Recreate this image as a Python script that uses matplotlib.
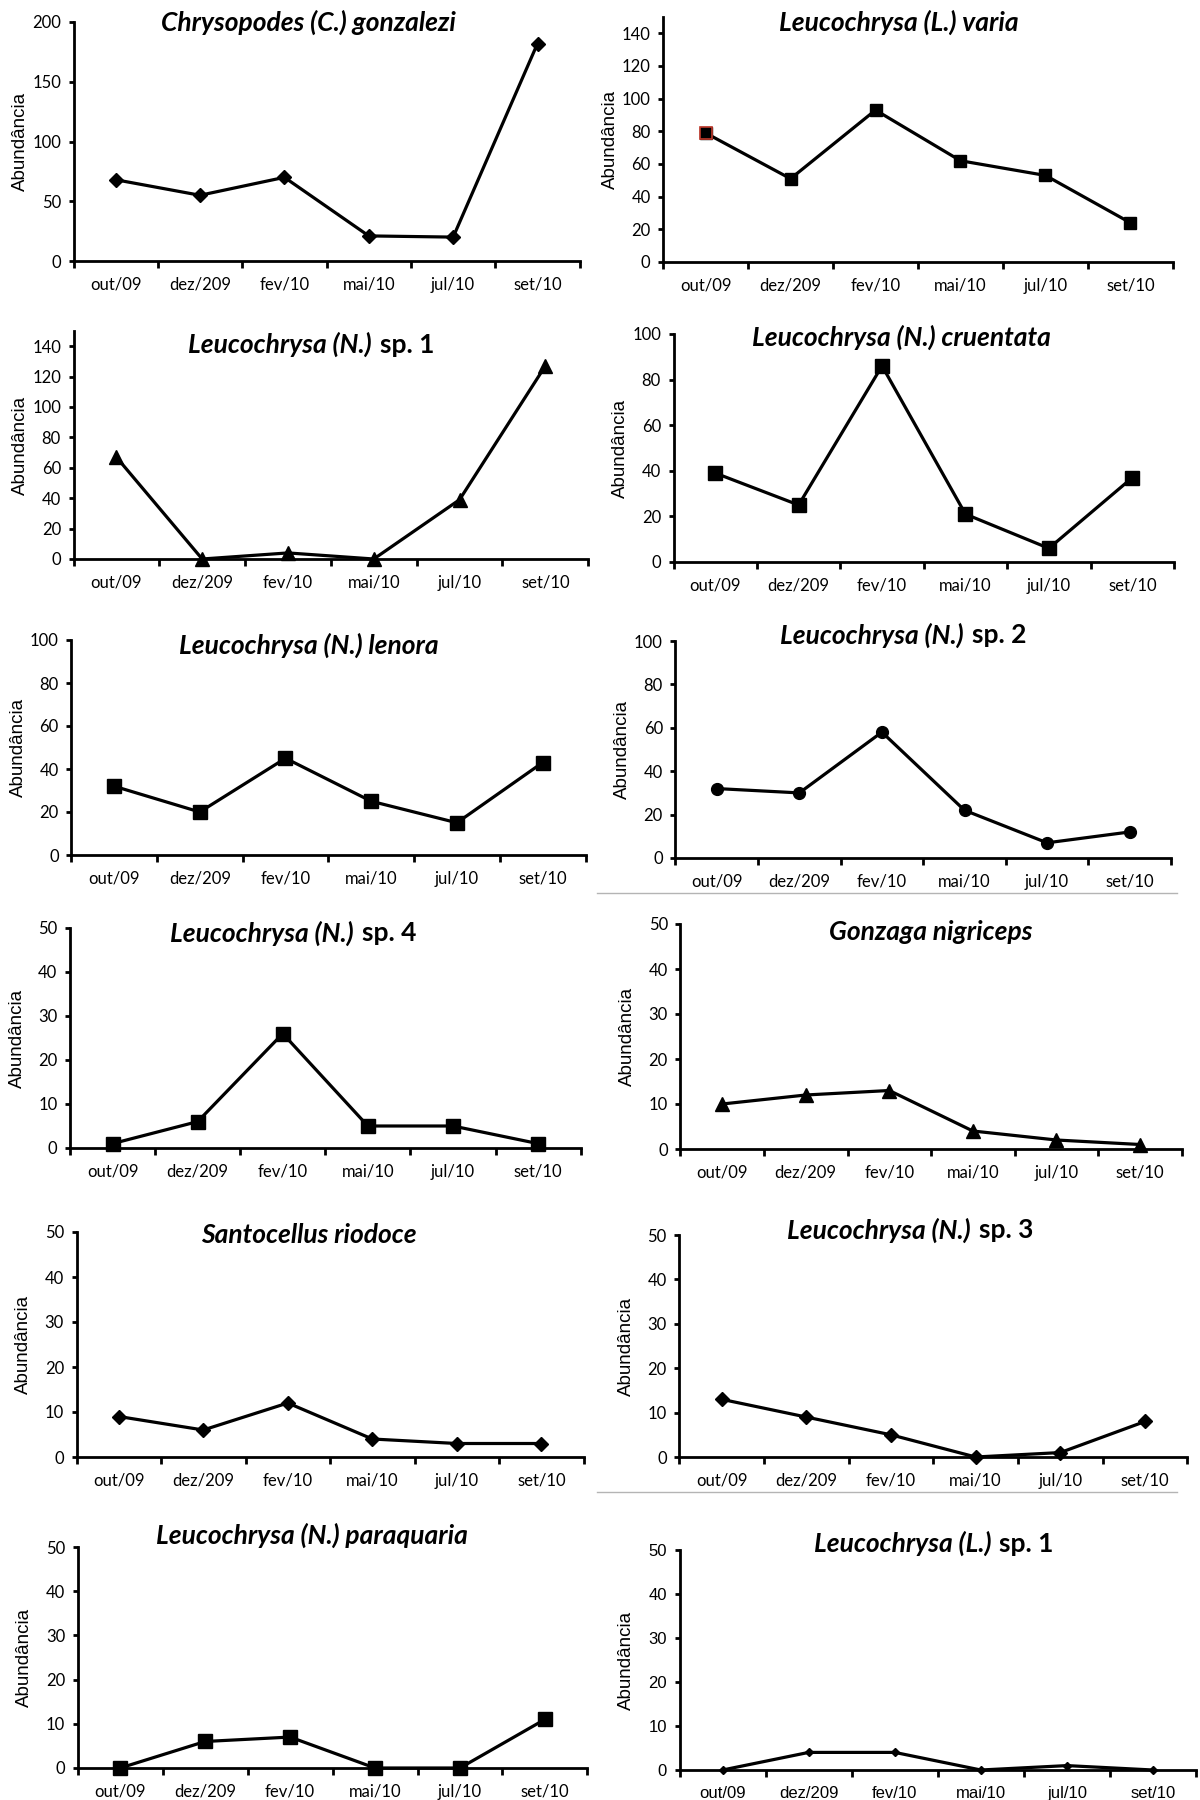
import matplotlib
matplotlib.use("Agg")
import matplotlib.pyplot as plt
from matplotlib.lines import Line2D
from matplotlib.offsetbox import TextArea, HPacker, AnnotationBbox

plt.rcParams["font.family"] = ["Lato", "DejaVu Sans"]

meses = ["out/09", "dez/209", "fev/10", "mai/10", "jul/10", "set/10"]

gonzalezi = [68, 55, 70, 21, 20, 182]
varia = [79, 51, 93, 62, 53, 24]
n_sp1 = [67, 0, 4, 0, 39, 127]
cruentata = [39, 25, 86, 21, 6, 37]
lenora = [32, 20, 45, 25, 15, 43]
n_sp2 = [32, 30, 58, 22, 7, 12]
n_sp4 = [1, 6, 26, 5, 5, 1]
nigriceps = [10, 12, 13, 4, 2, 1]
riodoce = [9, 6, 12, 4, 3, 3]
n_sp3 = [13, 9, 5, 0, 1, 8]
paraquaria = [0, 6, 7, 0, 0, 11]
l_sp1 = [0, 4, 4, 0, 1, 0]

# panel: (italic part, upright part, values, marker, ms, ylim, ystep,
#         pixel box x0, x1, ytop, ybottom, title x, title y, arial ticks)
paineis = [
    ("Chrysopodes (C.) gonzalezi", "", gonzalezi, "D", 7, 200, 50, 73.5, 579.7, 22, 261, 0.465, 1.0, False),
    ("Leucochrysa (L.) varia", "", varia, "s", 9, 150, 20, 663.1, 1172.9, 17, 262, 0.462, 0.98, False),
    ("Leucochrysa (N.)", "sp. 1", n_sp1, "^", 9.5, 150, 20, 73.5, 588.2, 331, 559, 0.462, 0.94, False),
    ("Leucochrysa (N.) cruentata", "", cruentata, "s", 9.5, 100, 20, 673.5, 1174.0, 334, 562, 0.456, 0.987, False),
    ("Leucochrysa (N.) lenora", "", lenora, "s", 9.5, 100, 20, 71.2, 585.5, 640, 855, 0.462, 0.977, False),
    ("Leucochrysa (N.)", "sp. 2", n_sp2, "o", 8.5, 100, 20, 675.4, 1171.0, 641, 858, 0.459, 1.028, False),
    ("Leucochrysa (N.)", "sp. 4", n_sp4, "s", 9.5, 50, 10, 70.0, 580.6, 928, 1148, 0.438, 0.977, False),
    ("Gonzaga nigriceps", "", nigriceps, "^", 9.5, 50, 10, 680.4, 1181.7, 924, 1149, 0.50, 0.964, False),
    ("Santocellus riodoce", "", riodoce, "D", 7, 50, 10, 76.5, 583.6, 1232, 1457, 0.458, 0.987, False),
    ("Leucochrysa (N.)", "sp. 3", n_sp3, "D", 7, 50, 10, 679.2, 1187.4, 1235, 1457, 0.454, 1.023, False),
    ("Leucochrysa (N.) paraquaria", "", paraquaria, "s", 9.5, 50, 10, 77.7, 587.4, 1547, 1768, 0.459, 1.054, False),
    ("Leucochrysa (L.)", "sp. 1", l_sp1, "D", 4, 50, 10, 679.6, 1196.0, 1550, 1770, 0.492, 1.03, True),
]

W, H = 1200, 1800
fig = plt.figure(figsize=(W / 100, H / 100), dpi=100)

xc = [i + 0.5 for i in range(len(meses))]

for (ital, reto, vals, mk, ms, ytop, ystep, x0, x1, yt, yb, tx, ty, arial) in paineis:
    ax = fig.add_axes([x0 / W, 1 - yb / H, (x1 - x0) / W, (yb - yt) / H])
    ax.plot(xc, vals, color="black", lw=2.3, marker=mk, ms=ms,
            mfc="black", mec="black", clip_on=False, zorder=3)
    if vals is varia:
        ax.plot(xc[:1], vals[:1], ls="none", marker=mk, ms=ms,
                mfc="black", mec="#c0392b", mew=1.2, clip_on=False, zorder=4)

    ax.set_xlim(0, len(meses))
    ax.set_ylim(0, ytop)
    ax.set_yticks(range(0, ytop + 1, ystep) if ytop % ystep == 0
                  else range(0, ytop, ystep))
    ax.set_xticks(range(len(meses) + 1))
    ax.set_xticklabels([])
    ax.set_xticks(xc, minor=True)
    tick_font = "Liberation Sans" if arial else "Lato"
    ax.set_xticklabels(meses, minor=True, fontsize=12, family=tick_font)
    for lb in ax.get_yticklabels():
        lb.set_fontsize(12)
        lb.set_family(tick_font)

    ax.tick_params(axis="x", which="major", direction="out", length=5, width=2)
    ax.tick_params(axis="x", which="minor", length=0, pad=11.5)
    ax.tick_params(axis="y", direction="out", length=3.5, width=2, pad=5.5)

    for s in ("top", "right"):
        ax.spines[s].set_visible(False)
    for s in ("left", "bottom"):
        ax.spines[s].set_linewidth(2)

    ax.set_ylabel("Abundância", fontsize=13.5, family="Liberation Sans")
    ax.yaxis.label.set_va("center")
    ax.yaxis.set_label_coords(-53 / (x1 - x0), 0.5)

    partes = [TextArea(ital, textprops=dict(fontsize=19, fontweight="bold",
                                             fontstyle="italic", family="Lato"))]
    if reto:
        partes.append(TextArea(reto, textprops=dict(fontsize=19, fontweight="bold",
                                                    family="Lato")))
    caixa = HPacker(children=partes, align="baseline", pad=0, sep=6)
    ax.add_artist(AnnotationBbox(caixa, (tx, ty), xycoords="axes fraction",
                                 box_alignment=(0.5, 0.5), frameon=False,
                                 annotation_clip=False))

# thin grey rules under two of the right-hand panels
for y in (893, 1492):
    fig.add_artist(Line2D([597 / W, 1177 / W], [1 - y / H, 1 - y / H],
                          color="#b4b4b4", lw=1))

fig.savefig("out.png", dpi=100, facecolor="white")
